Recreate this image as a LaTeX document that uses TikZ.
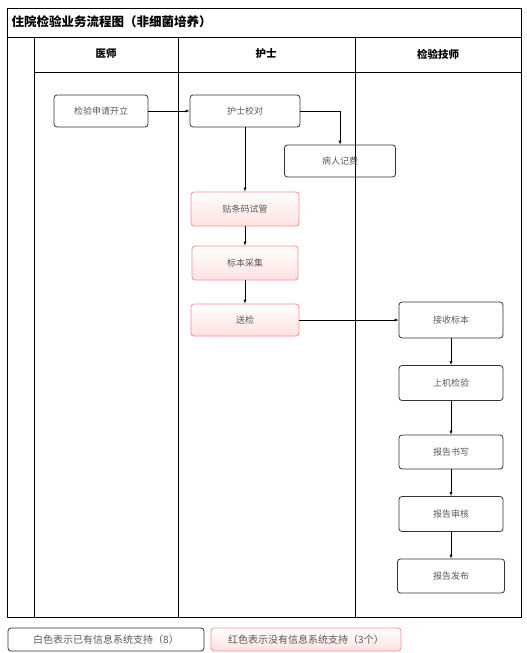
\documentclass[tikz,border=0pt]{standalone}
\usepackage{fontspec}
\setmainfont{Noto Sans CJK SC}
\usetikzlibrary{calc}
\usetikzlibrary{positioning}

\begin{document}
\begin{tikzpicture}[x=1pt, y=-1pt,
	style={align=center, font=\fontsize{9}{11}\selectfont},
	task/.style={draw=black!80, rounded corners=3pt, text=black!65, thick, minimum height=32pt},
	redtask/.style={task, draw=red!45, top color=white, bottom color=red!12},
	lane/.style={line width=0.9pt}]
	\useasboundingbox (0,0) rectangle (527,653);
	% frame and lanes
	\draw[lane] (7,8) rectangle (521,617);
	\draw[lane] (7,37) -- (521,37);
	\draw[lane] (34,72) -- (521,72);
	\draw[lane] (34,37) -- (34,617);
	\draw[lane] (178,37) -- (178,617);
	\draw[lane] (355,37) -- (355,617);
	\node[anchor=west, font=\fontsize{12.5}{14}\selectfont\bfseries] (title) at (8,22) {住院检验业务流程图（非细菌培养）};
	\node[font=\fontsize{10.5}{12}\selectfont\bfseries] (doc) at (106,54) {医师};
	\node[font=\fontsize{10.5}{12}\selectfont\bfseries] (nurse) at (266,54) {护士};
	\node[font=\fontsize{10.5}{12}\selectfont\bfseries] (tech) at (438,54) {检验技师};
	% tasks
	\node[task, minimum width=94pt] (apply) at (101,111) {检验申请开立};
	\node[task, minimum width=110pt] (check) at (245,111) {护士校对};
	\node[task, minimum width=111pt] (fee) at (340,161) {病人记费};
	\node[redtask, minimum width=108pt, minimum height=34pt] (label) at (245,209) {贴条码试管};
	\node[redtask, minimum width=106pt, minimum height=34pt] (collect) at (245,263) {标本采集};
	\node[redtask, minimum width=108pt] (send) at (245,320) {送检};
	\node[task, minimum width=104pt, minimum height=36pt] (receive) at (451,320) {接收标本};
	\node[task, minimum width=104pt, minimum height=35pt] (test) at (451,383) {上机检验};
	\node[task, minimum width=104pt, minimum height=34pt] (write) at (451,452) {报告书写};
	\node[task, minimum width=104pt, minimum height=35pt] (audit) at (451,514) {报告审核};
	\node[task, minimum width=107pt, minimum height=34pt] (publish) at (451,576) {报告发布};
	% connectors
	\draw[-latex] (apply) -- (check);
	\draw[-latex] (check.east) -| (fee.north);
	\draw[-latex] (check) -- (label);
	\draw[-latex] (label) -- (collect);
	\draw[-latex] (collect) -- (send);
	\draw[-latex] (send) -- (receive);
	\draw[-latex] (receive) -- (test);
	\draw[-latex] (test) -- (write);
	\draw[-latex] (write) -- (audit);
	\draw[-latex] (audit) -- (publish);
	% legend
	\node[task, minimum width=196pt, minimum height=23pt, font=\fontsize{10}{12}\selectfont] (white) at (106,639.5) {白色表示已有信息系统支持（8）};
	\node[redtask, minimum width=190pt, minimum height=23pt, font=\fontsize{10}{12}\selectfont] (red) at (306,639.5) {红色表示没有信息系统支持（3个）};
\end{tikzpicture}
\end{document}
